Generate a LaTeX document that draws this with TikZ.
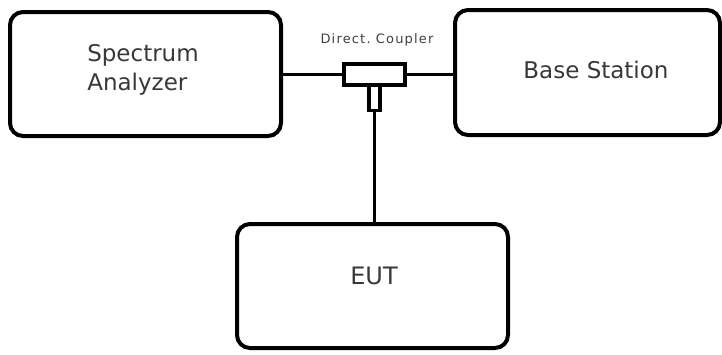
\documentclass[tikz,border=0pt]{standalone}
\usepackage{fontspec}
\setmainfont{DejaVu Sans}
\begin{document}
\begin{tikzpicture}[x=1pt,y=-1pt,
  box/.style={draw=black,line width=4pt,rounded corners=13pt,inner sep=0pt},
  part/.style={draw=black,line width=3.6pt,fill=white,inner sep=0pt},
  wire/.style={draw=black,line width=3.6pt},
  lbl/.style={text=black!78,font=\fontsize{23}{29}\selectfont,align=left,inner sep=0pt}]
\useasboundingbox (0,0) rectangle (722,354);
\node[box,minimum width=271pt,minimum height=124pt] (sa) at (145.5,74) {};
\node[box,minimum width=265pt,minimum height=125pt] (bs) at (587.5,72.5) {};
\node[box,minimum width=271pt,minimum height=124pt] (eut) at (372.5,286) {};
\node[lbl] (satext) at (143,70) {Spectrum\\Analyzer};
\node[lbl] (bstext) at (596,70) {Base Station};
\node[lbl,font=\fontsize{24}{28}\selectfont] (euttext) at (374,276) {EUT};
\node[text=black!75,font=\fontsize{13}{15}\selectfont\addfontfeature{LetterSpace=9},inner sep=0pt] (cplabel) at (377,40) {Direct.\ Coupler};
\node[part,minimum width=11pt,minimum height=25pt] (stub) at (374.5,98) {};
\node[part,minimum width=61pt,minimum height=21pt] (cp) at (374.5,74.5) {};
\draw[wire] (sa.east |- cp.west) -- (cp.west);
\draw[wire] (cp.east) -- (bs.west |- cp.east);
\draw[wire] (stub.south) -- (eut.north -| stub.south);
\end{tikzpicture}
\end{document}
